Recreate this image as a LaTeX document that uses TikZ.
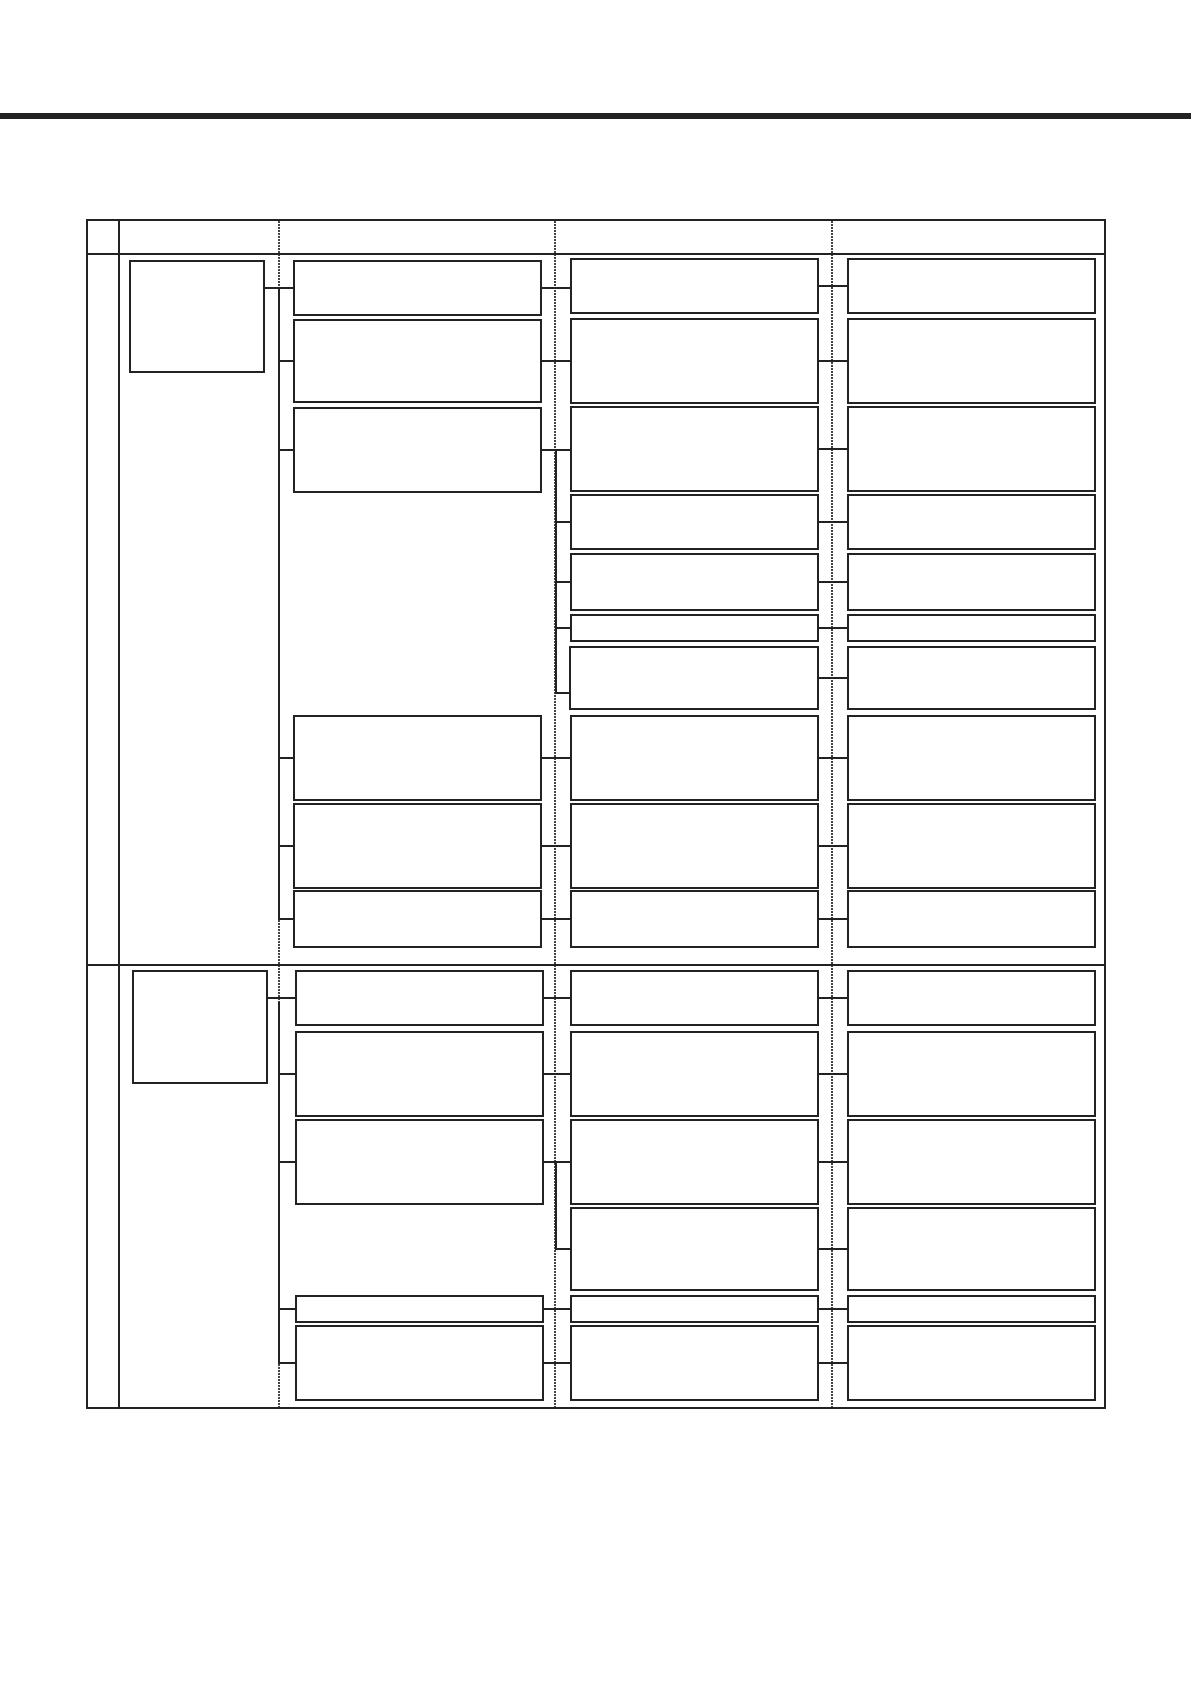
\documentclass[tikz,border=0pt]{standalone}
\usetikzlibrary{calc}
\definecolor{ink}{HTML}{222222}
\tikzset{
  box/.style={draw=ink, line width=2pt, fill=white, inner sep=0pt, outer sep=0pt, rectangle},
  conn/.style={draw=ink, line width=2pt},
  tline/.style={draw=ink, line width=2pt},
  dotline/.style={draw=ink!85, line width=1.5pt, dash pattern=on 1.5pt off 1.5pt}
}
\newcommand\mybox[5]{\node[box, minimum width={#4-#2}, minimum height={#5-#3}] (#1) at ({(#2+#4)/2},{(#3+#5)/2}) {};}
\begin{document}
\begin{tikzpicture}[x=1pt,y=-1pt]
\useasboundingbox (0,0) rectangle (1191,1684);
% top bar
\fill[ink] (0,113) rectangle (1191,119);
% dotted column guides
\foreach \x in {279,555,832} \draw[dotline] (\x,221) -- (\x,1407);
% table
\draw[tline] (87,220) rectangle (1105,1408);
\draw[tline] (119,220) -- (119,1408);
\draw[tline] (87,254) -- (1105,254);
\draw[tline] (87,965) -- (1105,965);

% ---- row 1 ----
\mybox{cat1}{130}{261}{264}{372}
\mybox{a1}{294}{261}{541}{315}
\mybox{a2}{294}{320}{541}{402}
\mybox{a3}{294}{408}{541}{492}
\mybox{a4}{294}{716}{541}{800}
\mybox{a5}{294}{804}{541}{888}
\mybox{a6}{294}{891}{541}{947}
\mybox{b1}{571}{259}{818}{313}
\mybox{b2}{571}{319}{818}{403}
\mybox{b3}{571}{407}{818}{491}
\mybox{b4}{571}{495}{818}{549}
\mybox{b5}{571}{554}{818}{610}
\mybox{b6}{571}{615}{818}{641}
\mybox{b7}{570}{647}{818}{709}
\mybox{b8}{571}{716}{818}{800}
\mybox{b9}{571}{804}{818}{888}
\mybox{b10}{571}{891}{818}{947}
\mybox{c1}{848}{259}{1095}{313}
\mybox{c2}{848}{319}{1095}{403}
\mybox{c3}{848}{407}{1095}{491}
\mybox{c4}{848}{495}{1095}{549}
\mybox{c5}{848}{554}{1095}{610}
\mybox{c6}{848}{615}{1095}{641}
\mybox{c7}{848}{647}{1095}{709}
\mybox{c8}{848}{716}{1095}{800}
\mybox{c9}{848}{804}{1095}{888}
\mybox{c10}{848}{891}{1095}{947}

\draw[conn] (a1.west -| cat1.east) -- (a1.west);
\coordinate (t1) at (a1.west -| 279,0);
\foreach \n in {a2,a3,a4,a5,a6} \draw[conn] (t1) |- (\n.west);
\draw[conn] (a1.east) -- (a1.east -| b1.west);
\draw[conn] (a2.east) -- (a2.east -| b2.west);
\draw[conn] (a3.east) -- (a3.east -| b3.west);
\draw[conn] (a4.east) -- (a4.east -| b8.west);
\draw[conn] (a5.east) -- (a5.east -| b9.west);
\draw[conn] (a6.east) -- (a6.east -| b10.west);
\coordinate (u1) at (a3.east -| 556,0);
\foreach \n in {b4,b5,b6} \draw[conn] (u1) |- (\n.west);
\draw[conn] (u1) |- ([yshift=-15pt]b7.west);
\foreach \k in {1,...,10} \draw[conn] (b\k.east) -- (b\k.east -| c\k.west);

% ---- row 2 ----
\mybox{cat2}{133}{971}{267}{1083}
\mybox{d1}{296}{971}{543}{1025}
\mybox{d2}{296}{1032}{543}{1116}
\mybox{d3}{296}{1120}{543}{1204}
\mybox{d4}{296}{1296}{543}{1322}
\mybox{d5}{296}{1326}{543}{1400}
\mybox{e1}{571}{971}{818}{1025}
\mybox{e2}{571}{1032}{818}{1116}
\mybox{e3}{571}{1120}{818}{1204}
\mybox{e4}{571}{1208}{818}{1290}
\mybox{e5}{571}{1296}{818}{1322}
\mybox{e6}{571}{1326}{818}{1400}
\mybox{f1}{848}{971}{1095}{1025}
\mybox{f2}{848}{1032}{1095}{1116}
\mybox{f3}{848}{1120}{1095}{1204}
\mybox{f4}{848}{1208}{1095}{1290}
\mybox{f5}{848}{1296}{1095}{1322}
\mybox{f6}{848}{1326}{1095}{1400}

\draw[conn] (d1.west -| cat2.east) -- (d1.west);
\coordinate (t2) at ([yshift=-4pt]d1.west -| 279,0);
\foreach \n in {d2,d3,d4,d5} \draw[conn] (t2) |- (\n.west);
\draw[conn] (d1.east) -- (d1.east -| e1.west);
\draw[conn] (d2.east) -- (d2.east -| e2.west);
\draw[conn] (d3.east) -- (d3.east -| e3.west);
\draw[conn] (d4.east) -- (d4.east -| e5.west);
\draw[conn] (d5.east) -- (d5.east -| e6.west);
\coordinate (u2) at (d3.east -| 556,0);
\draw[conn] (u2) |- (e4.west);
\foreach \k in {1,...,6} \draw[conn] (e\k.east) -- (e\k.east -| f\k.west);
\end{tikzpicture}
\end{document}
